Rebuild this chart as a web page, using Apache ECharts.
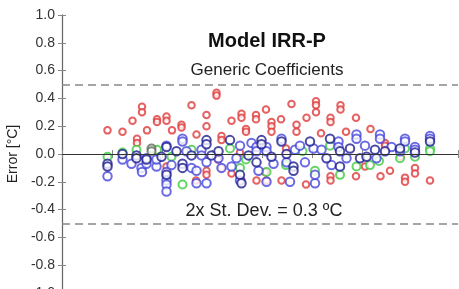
<!DOCTYPE html>
<html>
<head>
<meta charset="utf-8">
<script src="https://cdn.jsdelivr.net/npm/echarts@6/dist/echarts.min.js"></script>
<style>
    html, body { margin: 0; padding: 0; background: #fff; }
    #main { width: 459px; height: 289px; }
</style>
</head>
<body>
<div id="main"></div>
<script>
// values: [position, error]
var redPts = [
    [0.91,0.17],[1.21,0.16],[1.41,0.24],[1.60,0.34],[1.60,0.30],[1.70,0.17],[1.50,0.11],[1.50,0.08],
    [1.90,0.25],[1.90,0.23],[2.09,0.27],[2.09,0.24],[2.20,0.17],[2.39,0.21],[2.39,0.19],[2.59,0.35],
    [2.69,0.14],[2.89,0.28],[2.89,0.20],[3.09,0.44],[3.09,0.42],[3.19,0.13],[3.19,0.10],[3.39,0.24],
    [3.59,0.29],[3.59,0.26],[3.68,0.18],[3.68,0.16],[3.88,0.28],[3.88,0.25],[4.08,0.32],[4.19,0.23],
    [4.19,0.20],[4.19,0.16],[4.38,0.25],[4.59,0.36],[4.69,0.21],[4.69,0.16],[4.89,0.26],[5.08,0.38],
    [5.08,0.35],[5.08,0.30],[5.18,0.15],[5.37,0.26],[5.37,0.23],[5.57,0.35],[5.57,0.32],[5.68,0.16],
    [5.88,0.26],[6.17,0.18],[6.46,0.08],[6.46,0.06],
    [2.09,-0.09],[2.09,-0.13],[2.68,-0.19],[2.89,-0.12],[2.89,-0.15],[3.39,-0.14],[3.59,-0.19],
    [3.89,-0.19],[4.06,-0.13],[4.09,-0.19],[4.39,-0.19],[4.88,-0.22],[5.37,-0.16],[5.37,-0.19],
    [5.88,-0.16],[6.06,-0.09],[6.37,-0.16],[6.56,-0.12],[6.86,-0.17],[6.86,-0.20],[7.06,-0.10],
    [7.06,-0.14],[7.36,-0.19],[6.77,-0.02],[3.12,-0.04],[4.48,0.04],[3.56,0.01],[3.19,-0.10]
];
var greenPts = [
    [0.91,-0.02],[1.21,0.01],[1.49,0.03],[1.90,0.03],[2.09,-0.16],[2.19,-0.02],[2.41,-0.22],[2.59,0.03],
    [3.36,0.04],[3.56,-0.10],[3.68,-0.04],[4.09,-0.13],[4.48,-0.08],[4.81,0.02],[5.06,-0.12],[5.36,0.06],
    [5.56,-0.15],[5.89,-0.09],[6.16,-0.08],[6.34,-0.05],[6.76,-0.03],[6.86,0.04],[7.06,-0.02],[7.36,0.04],
    [7.36,0.02]
];
var bluePts = [
    [0.91,-0.16],[1.21,-0.04],[1.39,-0.07],[1.59,-0.10],[1.60,-0.13],[1.69,-0.07],[1.69,-0.03],[1.89,-0.09],
    [1.89,-0.04],[2.09,0.06],[2.09,-0.13],[2.09,-0.19],[2.09,-0.22],[2.09,-0.27],[2.19,-0.08],[2.41,0.11],
    [2.41,0.09],[2.49,0.02],[2.59,-0.10],[2.69,-0.12],[2.69,-0.21],[2.79,0.03],[2.79,-0.01],[2.89,-0.06],
    [2.89,-0.21],[3.13,-0.03],[3.19,-0.10],[3.39,-0.09],[3.56,0.06],[3.49,-0.03],[3.56,-0.19],[3.79,0.08],
    [3.89,0.05],[3.89,0.02],[3.93,-0.12],[4.09,0.05],[4.09,0.02],[4.09,-0.20],[4.23,-0.07],[4.39,0.11],
    [4.49,-0.06],[4.56,-0.20],[4.66,0.03],[4.76,0.06],[4.86,-0.06],[5.03,0.04],[5.06,-0.21],[5.06,-0.15],
    [5.19,0.03],[5.39,-0.08],[5.53,0.09],[5.53,0.05],[5.69,-0.03],[5.89,0.14],[5.89,0.11],[6.06,0.06],
    [6.29,-0.03],[6.36,0.14],[6.36,0.11],[6.59,0.05],[6.76,0.02],[6.86,0.11],[6.86,0.09],[7.06,0.05],
    [7.06,0.03],[7.36,0.13],[7.36,0.11]
];
var navyPts = [
    [0.91,-0.07],[0.91,-0.09],[1.21,0.00],[1.49,-0.01],[1.49,-0.03],[1.69,-0.04],[1.99,-0.02],[2.09,0.05],
    [2.09,-0.15],[2.29,0.02],[2.41,-0.07],[2.41,-0.10],[2.59,-0.01],[2.89,0.10],[2.89,0.07],[2.99,-0.01],
    [3.13,0.02],[3.36,0.10],[3.56,-0.15],[3.59,-0.21],[3.73,-0.01],[3.89,-0.06],[3.99,0.10],[3.99,0.07],
    [4.19,-0.02],[4.39,0.09],[4.49,0.00],[4.63,-0.09],[4.63,-0.12],[4.96,0.09],[5.29,-0.03],[5.36,0.11],
    [5.56,0.02],[5.56,-0.09],[5.76,0.04],[5.96,-0.03],[6.09,-0.02],[6.26,0.03],[6.46,0.02],[6.76,0.04],
    [7.06,0.01],[7.36,0.09]
];
var grayPts = [[1.79,0.04],[1.79,0.02]];

var yTicks = [-1.0, -0.8, -0.6, -0.4, -0.2, 0.0, 0.2, 0.4, 0.6, 0.8, 1.0];
var limitLines = [0.5, -0.5];

var chart = echarts.init(document.getElementById('main'));

function pts(name, data, color, size) {
    return {
        name: name,
        type: 'scatter',
        data: data,
        symbol: 'emptyCircle',
        symbolSize: size,
        silent: true,
        itemStyle: { color: color, borderColor: color, borderWidth: 1.2 }
    };
}

var axisStyle = { lineStyle: { color: '#666', width: 1 } };
var tickStyle = { inside: true, length: 4, lineStyle: { color: '#888' } };

var option = {
    animation: false,
    title: [
        { text: 'Model IRR-P', left: 262, top: 26, textAlign: 'center',
          textStyle: { fontFamily: 'Liberation Sans', fontSize: 20, fontWeight: 'bold', color: '#111' } },
        { text: 'Generic Coefficients', left: 262, top: 57, textAlign: 'center',
          textStyle: { fontFamily: 'Liberation Sans', fontSize: 17, fontWeight: 'normal', color: '#222' } },
        { text: '2x St. Dev. = 0.3 \u00baC', left: 259, top: 197, textAlign: 'center',
          textStyle: { fontFamily: 'Liberation Sans', fontSize: 18, fontWeight: 'normal', color: '#222' } }
    ],
    grid: { left: 62, right: 1, top: 15, bottom: -4, outerBoundsMode: 'none' },
    xAxis: [
        { type: 'value', min: 0, max: 7.92, interval: 1, position: 'bottom',
          axisLine: axisStyle, axisTick: tickStyle,
          axisLabel: { show: false }, splitLine: { show: false } },
        { type: 'value', min: 0, max: 7.92, interval: 1, position: 'top',
          axisLine: axisStyle, axisTick: tickStyle,
          axisLabel: { show: false }, splitLine: { show: false } }
    ],
    yAxis: [
        { type: 'value', min: yTicks[0], max: yTicks[yTicks.length - 1], interval: 0.2, position: 'left',
          name: 'Error [\u00b0C]', nameLocation: 'middle', nameGap: 33,
          nameTextStyle: { fontFamily: 'Liberation Sans', fontSize: 14, color: '#222' },
          axisLine: { lineStyle: { color: '#555', width: 1.2 } },
          axisTick: tickStyle,
          axisLabel: { margin: 7, fontFamily: 'Liberation Sans', fontSize: 14, color: '#333',
                       formatter: function (v) { return v.toFixed(1); } },
          splitLine: { show: false } },
        { type: 'value', min: yTicks[0], max: yTicks[yTicks.length - 1], interval: 0.2, position: 'right',
          axisLine: axisStyle, axisTick: tickStyle,
          axisLabel: { show: false }, splitLine: { show: false } }
    ],
    series: [
        {
            type: 'scatter', data: [], silent: true,
            markLine: {
                symbol: 'none', silent: true, label: { show: false },
                data: [
                    { yAxis: 0, lineStyle: { color: '#333', type: 'solid', width: 1.2 } },
                    { yAxis: limitLines[0], lineStyle: { color: '#888', type: [8, 5], width: 1.5 } },
                    { yAxis: limitLines[1], lineStyle: { color: '#888', type: [8, 5], width: 1.5 } }
                ]
            }
        },
        pts('red', redPts, '#e0393b', 6.5),
        pts('green', greenPts, '#3ecb3e', 8),
        pts('blue', bluePts, '#4646dc', 8.5),
        pts('navy', navyPts, '#1d1d8f', 8.5),
        pts('gray', grayPts, '#5d6b58', 8)
    ]
};

chart.setOption(option);
</script>
</body>
</html>
